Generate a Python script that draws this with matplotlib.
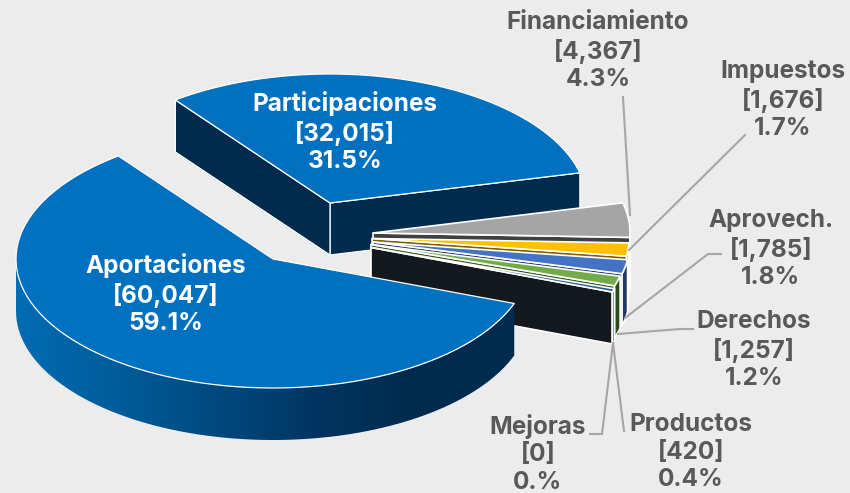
import numpy as np
import matplotlib
matplotlib.use('Agg')
import matplotlib.pyplot as plt
from matplotlib.colors import LinearSegmentedColormap
from matplotlib.patches import Polygon

# Data
names = ['Participaciones', 'Financiamiento', 'Impuestos', 'Aprovech.',
         'Derechos', 'Productos', 'Mejoras', 'Aportaciones']
values = [32015, 4367, 1676, 1785, 1257, 420, 0, 60047]
pct_labels = ['31.5%', '4.3%', '1.7%', '1.8%', '1.2%', '0.4%', '0.%', '59.1%']

# Style and layout, in pixels of the 850x493 picture
top_colors = ['#0070c0', '#a5a5a5', '#ffc000', '#4472c4', '#70ad47', '#255e91', '#636363', '#0070c0']
cut_colors = ['#002b4e', '#404040', '#7f6000', '#203864', '#385723', '#14181f', '#333333', '#002b4e']
rim_colors = ['#002b4e', '#7c7c7c', '#bf9f50', '#203864', '#2c4a1c', '#1f4e79', '#333333', '#002b4e']
centers = [(330, 203), (373, 233), (372, 238.5), (373, 242), (371, 244.5),
           (371, 247.5), (371, 247.5), (273, 259)]
label_pos = [(345, 132), (598, 51), (783, 100), (771, 249), (754, 350),
             (691, 452), (538, 454), (166, 294)]
label_colors = ['white', '#595959', '#595959', '#595959', '#595959', '#595959', '#595959', 'white']
leaders = [[(623, 97), (630, 215)],
           [(745, 135), (629, 250)],
           [(721, 254), (708, 254), (625, 318)],
           [(693, 329), (680, 329), (618, 334)],
           [(590, 434), (602, 434), (613, 343)],
           [(624, 431), (613, 343)]]
RX, RY, DEPTH = 257, 129, 52
START = 127
GRADIENT = ['#006cb2', '#005c9a', '#00497f', '#003561', '#002b4e', '#002b4e']

fig = plt.figure(figsize=(8.5, 4.93), dpi=100, facecolor='#ececec')
ax = fig.add_axes([0, 0, 1, 1])
ax.set_facecolor('#ececec')


def rim(center, t0, t1, n=80):
    # points of the rim from angle t0 to t1 (degrees, y up), t1 < t0
    t = np.radians(np.linspace(t0, t1, n))
    return np.column_stack([center[0] + RX * np.cos(t), center[1] - RY * np.sin(t)])


def draw_slice(center, t0, t1, top, cut, side, lw=1.1, gradient=False):
    arc = rim(center, t0, t1)
    drop = np.array([0, DEPTH])
    c = np.array(center)
    white = dict(edgecolor='white', linewidth=lw, joinstyle='round')

    # cut walls, only the ones that face the viewer
    if np.cos(np.radians(t1)) > 0:
        ax.add_patch(Polygon([c, arc[-1], arc[-1] + drop, c + drop], facecolor=cut, **white))
    if np.cos(np.radians(t0)) < 0:
        ax.add_patch(Polygon([c, arc[0], arc[0] + drop, c + drop], facecolor=cut, **white))

    # outer wall, the part of the rim below the horizontal
    wall_t0, wall_t1 = min(t0, 0), max(t1, -180)
    if wall_t1 < wall_t0:
        low = rim(center, wall_t0, wall_t1)
        wall = np.vstack([low, (low + drop)[::-1]])
        if gradient:
            cmap = LinearSegmentedColormap.from_list('wall', GRADIENT)
            poly = Polygon(wall, facecolor='none', edgecolor='none')
            ax.add_patch(poly)
            img = ax.imshow(np.linspace(0, 1, 400).reshape(1, -1), cmap=cmap, aspect='auto',
                            extent=(wall[:, 0].min(), wall[:, 0].max(),
                                    wall[:, 1].max(), wall[:, 1].min()), zorder=1)
            img.set_clip_path(poly)
        else:
            ax.add_patch(Polygon(wall, facecolor=side, edgecolor='white', linewidth=lw))

    # top face
    ax.add_patch(Polygon(np.vstack([c, arc]), facecolor=top, zorder=1.5 if gradient else 1, **white))


angles = START - np.cumsum([0] + values) / sum(values) * 360

for i in range(len(values)):
    if values[i] == 0:
        continue
    is_big = values[i] > 20000
    draw_slice(centers[i], angles[i], angles[i + 1], top_colors[i], cut_colors[i], rim_colors[i],
               lw=0.9 if is_big else 1.2, gradient=names[i] == 'Aportaciones')

for pts in leaders:
    xs, ys = zip(*pts)
    ax.plot(xs, ys, color='#a6a6a6', lw=1.5, solid_joinstyle='miter', zorder=3)

for i, name in enumerate(names):
    ax.text(label_pos[i][0], label_pos[i][1], f'{name}\n[{values[i]:,}]\n{pct_labels[i]}',
            color=label_colors[i], ha='center', va='center', fontsize=17.5, fontweight='bold',
            family='Inter', linespacing=1.24, zorder=4)

ax.set_xlim(0, 850)
ax.set_ylim(493, 0)
ax.axis('off')

fig.savefig('out.png', dpi=100, facecolor=fig.get_facecolor())
